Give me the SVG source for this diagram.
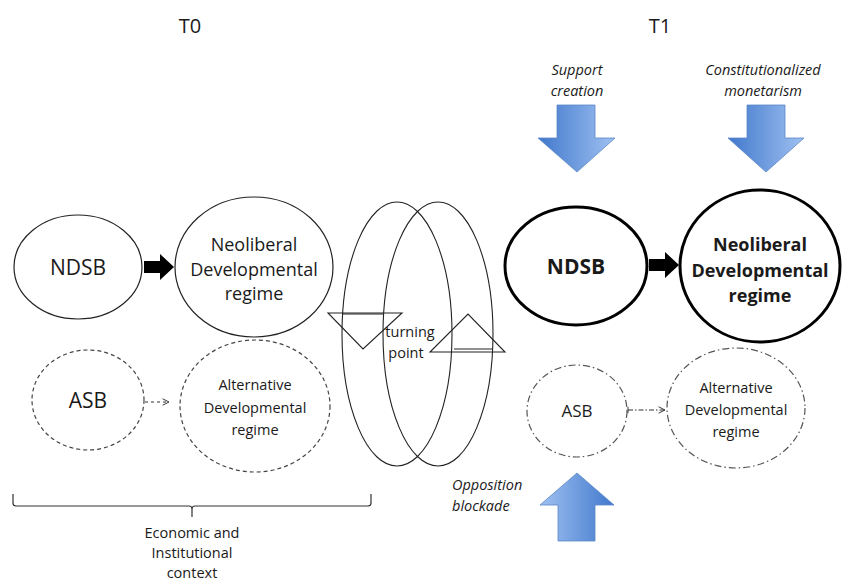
<svg xmlns="http://www.w3.org/2000/svg" width="845" height="583" viewBox="0 0 845 583">
<defs>
<linearGradient id="gDown" x1="0" y1="0" x2="1" y2="0">
<stop offset="0" stop-color="#4178cc"/><stop offset="1" stop-color="#9fc1f1"/>
</linearGradient>
<linearGradient id="gUp" x1="0" y1="0" x2="1" y2="0">
<stop offset="0" stop-color="#9fc1f1"/><stop offset="1" stop-color="#4178cc"/>
</linearGradient>
<marker id="open" viewBox="0 0 10 10" refX="9" refY="5" markerWidth="8" markerHeight="8" markerUnits="userSpaceOnUse" orient="auto">
<path d="M1,1 L9,5 L1,9" fill="none" stroke="#333" stroke-width="1.2"/>
</marker>
<marker id="tick" viewBox="0 0 10 10" refX="5" refY="5" markerWidth="8" markerHeight="8" markerUnits="userSpaceOnUse" orient="auto">
<path d="M5,1 V9" fill="none" stroke="#333" stroke-width="1.2"/>
</marker>
</defs>
<style>
text{font-family:"Open Sans","Noto Sans","Liberation Sans",sans-serif;fill:#1a1a1a;text-anchor:middle}
.node{fill:#fff;stroke:#222;stroke-width:1.2}
.bold{fill:#fff;stroke:#000;stroke-width:3}
.dash{fill:#fff;stroke:#444;stroke-width:1.2;stroke-dasharray:4 3}
.dashdot{fill:#fff;stroke:#555;stroke-width:1.2;stroke-dasharray:7 3 1.5 3}
.big{font-size:21px}
.mid{font-size:18px}
.sm{font-size:14.5px}
.it{font-size:14.5px;font-style:italic}
.b{font-weight:bold}
.blue{stroke:#5a86c6;stroke-width:0.8}
.ring{fill:none;stroke:#222;stroke-width:1.1}
</style>
<rect width="845" height="583" fill="#fff"/>

<text x="190" y="33" style="font-size:20px">T0</text>
<text x="660" y="33" style="font-size:20px">T1</text>

<g id="ndsb-t0"><ellipse class="node" cx="78" cy="267" rx="64" ry="52"/><text class="big" x="78" y="275">NDSB</text></g>
<g id="neo-t0"><ellipse class="node" cx="254" cy="267" rx="79" ry="70"/>
<text class="mid" x="254" y="251">Neoliberal</text><text class="mid" x="254" y="276">Developmental</text><text class="mid" x="254" y="300">regime</text></g>
<g id="asb-t0"><ellipse class="dash" cx="88" cy="400" rx="56" ry="50"/><text class="big" x="88" y="408">ASB</text></g>
<g id="alt-t0"><ellipse class="dash" cx="255" cy="406" rx="75" ry="66"/>
<text class="sm" x="255" y="390">Alternative</text><text class="sm" x="255" y="413">Developmental</text><text class="sm" x="255" y="435">regime</text></g>

<g id="ndsb-t1"><ellipse class="bold" cx="576" cy="266" rx="71" ry="59"/><text class="big b" x="576" y="274">NDSB</text></g>
<g id="neo-t1"><ellipse class="bold" cx="760" cy="266" rx="80" ry="76"/>
<text class="mid b" x="760" y="251">Neoliberal</text><text class="mid b" x="760" y="277">Developmental</text><text class="mid b" x="760" y="302">regime</text></g>
<g id="asb-t1"><ellipse class="dashdot" cx="577" cy="411" rx="50" ry="46"/><text x="577" y="417" style="font-size:17px">ASB</text></g>
<g id="alt-t1"><ellipse class="dashdot" cx="736" cy="408" rx="69" ry="60"/>
<text class="sm" x="736" y="393">Alternative</text><text class="sm" x="736" y="415">Developmental</text><text class="sm" x="736" y="437">regime</text></g>

<g id="connectors">
<path d="M144,261 H160 V254 L174,267 L160,280 V273 H144 Z" fill="#000"/>
<path d="M649,259 H665 V252 L679,265 L665,278 V271 H649 Z" fill="#000"/>
<line x1="145" y1="402" x2="169" y2="402" stroke="#333" stroke-width="1.2" stroke-dasharray="3 3" marker-end="url(#open)"/>
<line x1="628" y1="410" x2="665" y2="410" stroke="#333" stroke-width="1.2" stroke-dasharray="5 2 1.5 2" marker-start="url(#tick)" marker-end="url(#open)"/>
</g>

<g id="turning-point">
<ellipse class="ring" cx="397" cy="334" rx="55" ry="132"/>
<ellipse class="ring" cx="438" cy="334" rx="55" ry="132"/>
<line class="ring" x1="342" y1="314" x2="383" y2="314"/>
<polygon class="ring" points="328,313 402,313 363,349"/>
<line class="ring" x1="454" y1="349" x2="493" y2="349"/>
<polygon class="ring" points="430,352 505,352 468,314"/>
<text class="sm" x="410" y="337">turning</text>
<text class="sm" x="406" y="358">point</text>
</g>

<g id="support">
<text class="it" x="577" y="75">Support</text><text class="it" x="577" y="96">creation</text>
<path class="blue" d="M557,105 H595 V138 H615 L577,172 L538,138 H557 Z" fill="url(#gDown)"/>
</g>
<g id="monetarism">
<text class="it" x="763" y="75">Constitutionalized</text><text class="it" x="763" y="96">monetarism</text>
<path class="blue" d="M747,105 H785 V138 H804 L766,172 L728,138 H747 Z" fill="url(#gDown)"/>
</g>
<g id="opposition">
<text class="it" x="452" y="490" style="text-anchor:start">Opposition</text><text class="it" x="452" y="511" style="text-anchor:start">blockade</text>
<path class="blue" d="M558,541 H595 V505 H614 L577,473 L540,505 H558 Z" fill="url(#gUp)"/>
</g>

<g id="context">
<path d="M13,494 V503 Q13,506 16,506 H189 Q192,506 192,509 V517 M192,509 Q192,506 195,506 H368 Q371,506 371,503 V494" fill="none" stroke="#333" stroke-width="1.2"/>
<text class="sm" x="192" y="538">Economic and</text>
<text class="sm" x="192" y="558">Institutional</text>
<text class="sm" x="192" y="578">context</text>
</g>
</svg>
